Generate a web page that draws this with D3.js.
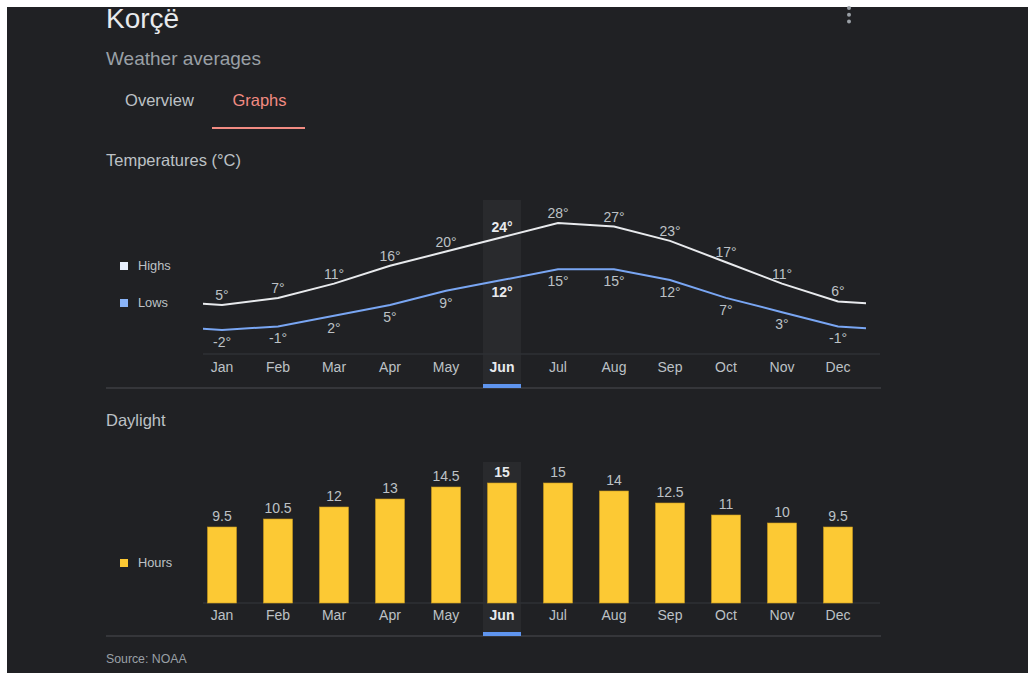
<!DOCTYPE html>
<html>
<head>
<meta charset="utf-8">
<script src="https://cdn.jsdelivr.net/npm/d3@7"></script>
<style>
  html, body { margin: 0; padding: 0; background: #fff; }
  svg { display: block; font-family: "Liberation Sans", Arial, sans-serif; }
</style>
</head>
<body>
<div id="root"></div>
<script>
const months = ['Jan', 'Feb', 'Mar', 'Apr', 'May', 'Jun', 'Jul', 'Aug', 'Sep', 'Oct', 'Nov', 'Dec']
const highs = [5, 7, 11, 16, 20, 24, 28, 27, 23, 17, 11, 6]
const lows = [-2, -1, 2, 5, 9, 12, 15, 15, 12, 7, 3, -1]
const daylight = [9.5, 10.5, 12, 13, 14.5, 15, 15, 14, 12.5, 11, 10, 9.5]
const currentMonth = 'Jun'

const w = 1028
const h = 673

const bg = '#202124'
const labelColor = '#bdc1c6'
const mutedColor = '#9aa0a6'

const svg = d3.select('#root')
  .append('svg')
  .attr('width', w)
  .attr('height', h)

svg.append('rect')
  .attr('x', 7)
  .attr('y', 7)
  .attr('width', w - 7)
  .attr('height', h - 7)
  .attr('fill', bg)

// header
svg.append('text')
  .attr('x', 106).attr('y', 28)
  .attr('font-size', 28)
  .attr('fill', '#e8eaed')
  .text('Korçë')

svg.append('text')
  .attr('x', 106).attr('y', 65)
  .attr('font-size', 19)
  .attr('fill', mutedColor)
  .text('Weather averages')

svg.append('text')
  .attr('x', 159.5).attr('y', 106)
  .attr('text-anchor', 'middle')
  .attr('font-size', 16.5)
  .attr('fill', labelColor)
  .text('Overview')

svg.append('text')
  .attr('x', 259.5).attr('y', 106)
  .attr('text-anchor', 'middle')
  .attr('font-size', 16.5)
  .attr('fill', '#f28b82')
  .text('Graphs')

svg.append('rect')
  .attr('x', 212).attr('y', 127)
  .attr('width', 93).attr('height', 2)
  .attr('fill', '#f28b82')

svg.selectAll('.menu-dot')
  .data([0, 1, 2])
  .enter()
  .append('circle')
    .attr('class', 'menu-dot')
    .attr('cx', 849)
    .attr('cy', d => 8 + d * 6.8)
    .attr('r', 2)
    .attr('fill', mutedColor)

// shared month scale
const xScale = d3.scaleLinear()
  .domain([0, months.length - 1])
  .range([222, 838])

const bandW = 38
const curIdx = months.indexOf(currentMonth)
const plotLeft = xScale(-0.34)
const plotRight = xScale(months.length - 0.5)

function drawSection(g, opts) {
  // current month highlight
  g.append('rect')
    .attr('x', xScale(curIdx) - bandW / 2)
    .attr('y', opts.bandTop)
    .attr('width', bandW)
    .attr('height', opts.sepY - opts.bandTop)
    .attr('fill', '#292a2d')

  g.append('line')
    .attr('x1', plotLeft).attr('x2', 880)
    .attr('y1', opts.gridY).attr('y2', opts.gridY)
    .attr('stroke', '#2e3034')
    .attr('stroke-width', 1.5)

  g.append('line')
    .attr('x1', 106).attr('x2', 881)
    .attr('y1', opts.sepY).attr('y2', opts.sepY)
    .attr('stroke', '#4a4c50')
    .attr('stroke-width', 1.2)

  g.append('rect')
    .attr('x', xScale(curIdx) - bandW / 2)
    .attr('y', opts.sepY - 4)
    .attr('width', bandW)
    .attr('height', 4)
    .attr('fill', '#5f95ef')

  g.selectAll('.month')
    .data(months)
    .enter()
    .append('text')
      .attr('class', 'month')
      .attr('x', (d, i) => xScale(i))
      .attr('y', opts.monthY)
      .attr('text-anchor', 'middle')
      .attr('font-size', 14)
      .attr('font-weight', d => d === currentMonth ? 'bold' : 'normal')
      .attr('fill', d => d === currentMonth ? '#e8eaed' : labelColor)
      .text(d => d)

  g.append('text')
    .attr('x', 106).attr('y', opts.titleY)
    .attr('font-size', 16.5)
    .attr('fill', labelColor)
    .text(opts.title)

  const legend = g.selectAll('.legend')
    .data(opts.legend)
    .enter()
    .append('g')
      .attr('class', 'legend')
      .attr('transform', d => 'translate(120, ' + d.y + ')')

  legend.append('rect')
    .attr('x', 0).attr('y', -8)
    .attr('width', 8).attr('height', 8)
    .attr('fill', d => d.color)

  legend.append('text')
    .attr('x', 18).attr('y', 0)
    .attr('font-size', 12.8)
    .attr('fill', labelColor)
    .text(d => d.name)
}

// ---------- temperatures ----------
const tempG = svg.append('g')

drawSection(tempG, {
  title: 'Temperatures (°C)',
  titleY: 166,
  bandTop: 200,
  gridY: 354,
  sepY: 388,
  monthY: 372,
  legend: [
    { name: 'Highs', color: '#e8f0fe', y: 270 },
    { name: 'Lows', color: '#8ab4f8', y: 307 }
  ]
})

const yTemp = d3.scaleLinear()
  .domain([-2, 28])
  .range([330, 223])

svg.append('clipPath')
  .attr('id', 'temp-clip')
  .append('rect')
    .attr('x', plotLeft)
    .attr('y', 190)
    .attr('width', plotRight - plotLeft)
    .attr('height', 170)

// wrap the year around so the line runs past Jan and Dec
const wrap = vals => [[-1, vals[vals.length - 1]]]
  .concat(vals.map((v, i) => [i, v]))
  .concat([[vals.length, vals[0]]])

const line = d3.line()
  .x(d => xScale(d[0]))
  .y(d => yTemp(d[1]))

const series = [
  { vals: highs, color: '#e8eaed', dy: -5 },
  { vals: lows, color: '#79a6f3', dy: 17 }
]

series.forEach(s => {
  tempG.append('path')
    .attr('d', line(wrap(s.vals)))
    .attr('clip-path', 'url(#temp-clip)')
    .attr('fill', 'none')
    .attr('stroke', s.color)
    .attr('stroke-width', 2)

  tempG.selectAll(null)
    .data(s.vals)
    .enter()
    .append('text')
      .attr('x', (d, i) => xScale(i))
      .attr('y', d => yTemp(d) + s.dy)
      .attr('text-anchor', 'middle')
      .attr('font-size', 14)
      .attr('font-weight', (d, i) => i === curIdx ? 'bold' : 'normal')
      .attr('fill', (d, i) => i === curIdx ? '#e8eaed' : labelColor)
      .text(d => d + '°')
})

// ---------- daylight ----------
const dayG = svg.append('g')

drawSection(dayG, {
  title: 'Daylight',
  titleY: 426,
  bandTop: 462,
  gridY: 603,
  sepY: 636,
  monthY: 620,
  legend: [
    { name: 'Hours', color: '#fcc934', y: 567 }
  ]
})

const yHours = d3.scaleLinear()
  .domain([0, 15])
  .range([603, 483])

const barW = 29

dayG.selectAll('.bar')
  .data(daylight)
  .enter()
  .append('rect')
    .attr('class', 'bar')
    .attr('x', (d, i) => xScale(i) - barW / 2)
    .attr('y', d => yHours(d))
    .attr('width', barW)
    .attr('height', d => yHours(0) - yHours(d))
    .attr('fill', '#fcc934')
    .attr('stroke', '#c99a1e')
    .attr('stroke-width', 0.6)

dayG.selectAll('.bar-label')
  .data(daylight)
  .enter()
  .append('text')
    .attr('class', 'bar-label')
    .attr('x', (d, i) => xScale(i))
    .attr('y', d => yHours(d) - 6)
    .attr('text-anchor', 'middle')
    .attr('font-size', 14)
    .attr('font-weight', (d, i) => i === curIdx ? 'bold' : 'normal')
    .attr('fill', (d, i) => i === curIdx ? '#e8eaed' : labelColor)
    .text(d => d)

svg.append('text')
  .attr('x', 106).attr('y', 663)
  .attr('font-size', 12.3)
  .attr('fill', mutedColor)
  .text('Source: NOAA')
</script>
</body>
</html>
